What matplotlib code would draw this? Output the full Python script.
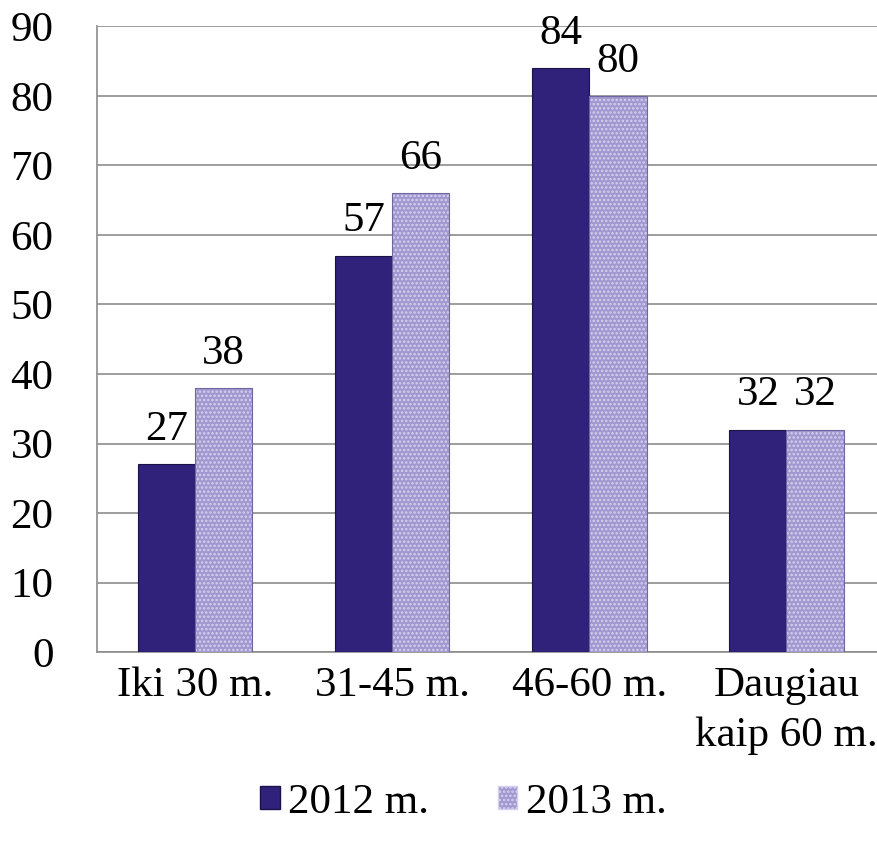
import numpy as np
import matplotlib
matplotlib.use('Agg')
import matplotlib.pyplot as plt
from matplotlib.patches import Patch

categories = ['Iki 30 m.', '31-45 m.', '46-60 m.', 'Daugiau\nkaip 60 m.']
series_names = ['2012 m.', '2013 m.']
vals_2012 = [27, 57, 84, 32]
vals_2013 = [38, 66, 80, 32]

plt.rcParams['font.family'] = ['Liberation Serif', 'DejaVu Serif']
plt.rcParams['hatch.linewidth'] = 1.2

fig = plt.figure(figsize=(8.78, 8.46), dpi=100)
ax = fig.add_axes([0.110, 0.229, 0.898, 0.740])

x = np.arange(len(categories))
w = 0.29
c1 = '#30217a'
c2 = '#a198cf'
b1 = ax.bar(x - w/2, vals_2012, w, color=c1, edgecolor='#1c1248', linewidth=0.8, zorder=3)
b2 = ax.bar(x + w/2, vals_2013, w, color=c2, edgecolor='#d6d0f0', linewidth=0,
            hatch='....', zorder=3)
# outline for hatched bars
ax.bar(x + w/2, vals_2013, w, facecolor='none', edgecolor='#6f66a0', linewidth=0.8, zorder=4)

fs = 31
ax.bar_label(b1, padding=11, fontsize=fs)
ax.bar_label(b2, padding=11, fontsize=fs)

ax.set_ylim(0, 90)
ax.set_xlim(-0.5, 3.5)
ax.set_yticks(range(0, 91, 10))
ax.yaxis.grid(True, color='#8c8c8c', linewidth=1.2, zorder=0)
ax.set_axisbelow(True)
ax.set_xticks(x)
ax.set_xticklabels([])
for i, lab in enumerate(categories):
    ax.text(x[i], -2.0, lab, ha='center', va='top', fontsize=fs, linespacing=1.4)
ax.tick_params(axis='y', labelsize=fs, length=0, pad=31)
ax.tick_params(axis='x', length=0)
for s in ['top', 'right']:
    ax.spines[s].set_visible(False)
for s in ['left', 'bottom']:
    ax.spines[s].set_color('#8c8c8c')
    ax.spines[s].set_linewidth(1.2)

handles = [Patch(facecolor=c1, edgecolor='#1c1248'),
           Patch(facecolor=c2, edgecolor='#d6d0f0', hatch='....')]
fig.legend(handles, series_names, loc='center', bbox_to_anchor=(0.528, 0.051), ncol=2,
           frameon=False, fontsize=fs, handlelength=0.45, handleheight=0.45,
           handletextpad=0.2, columnspacing=1.6)

fig.savefig('out.png', dpi=100)
